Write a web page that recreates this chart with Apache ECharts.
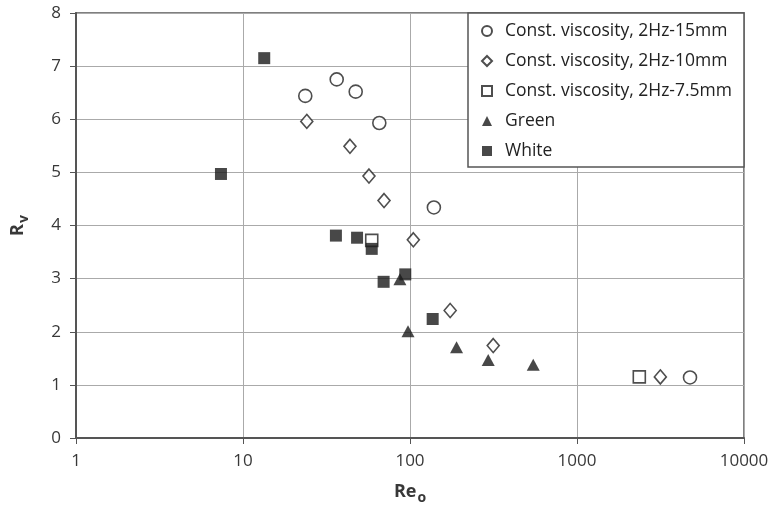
<!DOCTYPE html>
<html>
<head>
<meta charset="utf-8">
<script src="https://cdn.jsdelivr.net/npm/echarts@6/dist/echarts.min.js"></script>
<style>
html,body{margin:0;padding:0;background:#fff;}
#chart{width:772px;height:510px;}
</style>
</head>
<body>
<div id="chart"></div>
<script>
// Velocity ratio R_v against outer Reynolds number Re_o
const seriesNames = [
  'Const. viscosity, 2Hz-15mm',
  'Const. viscosity, 2Hz-10mm',
  'Const. viscosity, 2Hz-7.5mm',
  'Green',
  'White'
];

// [Re_o, R_v] pairs per series
const visc15mm = [[23.6, 6.44], [36.4, 6.75], [47.3, 6.52], [65.5, 5.93], [139, 4.34], [4750, 1.14]];
const visc10mm = [[24.1, 5.96], [43.7, 5.49], [56.8, 4.93], [69.9, 4.47], [104.7, 3.73], [174, 2.40], [315, 1.74], [3155, 1.15]];
const visc7_5mm = [[59, 3.72], [2361, 1.15]];
const green = [[87, 2.99], [97.3, 2.01], [190, 1.71], [294, 1.47], [547, 1.38]];
const white = [[13.4, 7.15], [7.38, 4.97], [36, 3.81], [48.2, 3.77], [59, 3.56], [69.5, 2.94], [93.7, 3.08], [136.7, 2.24]];

const xTicks = [1, 10, 100, 1000, 10000];
const yTicks = [0, 1, 2, 3, 4, 5, 6, 7, 8];

const chart = echarts.init(document.getElementById('chart'), null, {renderer: 'canvas'});

const hollow = {color: '#fff', borderColor: '#222', borderWidth: 1.6};
const solid = {color: '#1a1a1a', borderColor: '#1a1a1a', borderWidth: 0};
const font = '"Open Sans", "Noto Sans", sans-serif';
const labelColor = '#383838';

chart.setOption({
  animation: false,
  textStyle: {fontFamily: font},
  grid: {
    left: 76, right: 28, top: 13, bottom: 72,
    outerBoundsMode: 'none', containLabel: false,
    show: true, borderColor: '#555', borderWidth: 1.5
  },
  legend: {
    orient: 'vertical',
    left: 468,
    top: 13,
    padding: [9, 12, 7, 13],
    itemGap: 12,
    itemWidth: 10,
    itemHeight: 10,
    backgroundColor: '#fff',
    borderColor: '#555',
    borderWidth: 1.5,
    textStyle: {fontSize: 17.5, color: '#222', fontFamily: font, padding: [0, 0, 0, 8]},
    data: seriesNames
  },
  xAxis: {
    type: 'log',
    logBase: 10,
    min: xTicks[0],
    max: xTicks[xTicks.length - 1],
    name: '{a|Re}{b|o}',
    nameLocation: 'middle',
    nameGap: 41,
    nameTextStyle: {
      rich: {
        a: {fontSize: 18, fontWeight: 'bold', color: labelColor, fontFamily: font},
        b: {fontSize: 14, fontWeight: 'bold', color: labelColor, fontFamily: font, padding: [12, 0, 0, 1]}
      }
    },
    axisLine: {show: true, onZero: false, lineStyle: {color: '#555', width: 2}},
    axisTick: {show: true, inside: false, length: 6, lineStyle: {color: '#555'}},
    axisLabel: {fontSize: 17, color: labelColor, margin: 15, fontFamily: font, formatter: v => String(v)},
    splitLine: {show: true, lineStyle: {color: '#aaa', width: 1}},
    minorTick: {show: false}
  },
  yAxis: {
    type: 'value',
    min: yTicks[0],
    max: yTicks[yTicks.length - 1],
    interval: 1,
    name: '{a|R}{b|v}',
    nameLocation: 'middle',
    nameRotate: 90,
    nameGap: 45,
    nameTextStyle: {
      rich: {
        a: {fontSize: 18, fontWeight: 'bold', color: labelColor, fontFamily: font},
        b: {fontSize: 14, fontWeight: 'bold', color: labelColor, fontFamily: font, padding: [12, 0, 0, 1]}
      }
    },
    axisLine: {show: true, lineStyle: {color: '#555', width: 2}},
    axisTick: {show: true, inside: false, length: 6, lineStyle: {color: '#555'}},
    axisLabel: {fontSize: 17, color: labelColor, margin: 15, fontFamily: font},
    splitLine: {show: true, lineStyle: {color: '#aaa', width: 1}}
  },
  series: [
    {name: seriesNames[0], type: 'scatter', data: visc15mm, symbol: 'circle', symbolSize: 13, itemStyle: hollow},
    {name: seriesNames[1], type: 'scatter', data: visc10mm, symbol: 'diamond', symbolSize: [12, 14], itemStyle: hollow},
    {name: seriesNames[2], type: 'scatter', data: visc7_5mm, symbol: 'rect', symbolSize: 12, itemStyle: hollow},
    {name: seriesNames[3], type: 'scatter', data: green, symbol: 'triangle', symbolSize: [13, 12], itemStyle: solid},
    {name: seriesNames[4], type: 'scatter', data: white, symbol: 'rect', symbolSize: 12, itemStyle: solid}
  ]
});
</script>
</body>
</html>
